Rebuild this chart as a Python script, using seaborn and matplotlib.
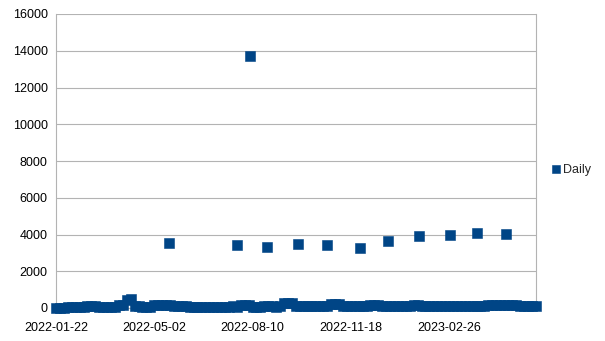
import matplotlib
matplotlib.use("Agg")
import matplotlib.pyplot as plt
import matplotlib.dates as mdates
import seaborn as sns
import pandas as pd

# ---- data ----
base_start = "2022-01-22"
base_step = "4D"
base_values = [
    10, 20, 15, 60, 70, 65, 75, 70, 120, 125, 110, 70, 75, 65, 70, 80,
    160, 155, 450, 480, 110, 100, 70, 75, 70, 150, 145, 160, 150, 140,
    110, 105, 115, 110, 70, 75, 70, 65, 75, 70, 75, 70, 80, 75, 80, 85,
    80, 150, 155, 145, 70, 75, 70, 110, 115, 105, 80, 90, 270, 280, 275,
    95, 90, 85, 95, 90, 100, 95, 90, 100, 220, 230, 215, 90, 95, 85, 90,
    100, 95, 90, 150, 155, 145, 90, 95, 85, 90, 95, 90, 100, 95, 150, 155,
    90, 95, 85, 90, 95, 100, 90, 85, 95, 90, 100, 95, 90, 85, 95, 90, 100,
    150, 145, 155, 150, 140, 160, 150, 145, 90, 95, 100, 90, 95,
]
spike_dates = [
    "2022-05-17", "2022-07-25", "2022-08-07", "2022-08-25", "2022-09-25",
    "2022-10-25", "2022-11-27", "2022-12-26", "2023-01-26", "2023-02-27",
    "2023-03-26", "2023-04-25",
]
spike_values = [3550, 3450, 13700, 3340, 3500, 3450, 3250, 3650, 3940, 3970,
                4080, 4010]
y_ticks = [0, 2000, 4000, 6000, 8000, 10000, 12000, 14000, 16000]
x_tick_dates = ["2022-01-22", "2022-05-02", "2022-08-10", "2022-11-18", "2023-02-26"]
series_name = "Daily"

base_dates = pd.date_range(base_start, periods=len(base_values), freq=base_step)
df = pd.DataFrame({
    "date": list(base_dates) + list(pd.to_datetime(spike_dates)),
    "value": base_values + spike_values,
    "series": series_name,
})

# ---- plot ----
sns.set_theme(style="white")
plt.rcParams["font.family"] = ["Liberation Sans", "DejaVu Sans"]

fig = plt.figure(figsize=(6.05, 3.41), dpi=100)
ax = fig.add_axes([56 / 605, 1 - 308 / 341, (535.5 - 56) / 605, (308 - 14) / 341])

color = "#004586"
sns.scatterplot(data=df, x="date", y="value", hue="series", palette=[color],
                marker="s", s=52, edgecolor=color, linewidth=0.4,
                ax=ax, clip_on=False, zorder=3)

ax.set_xlim(pd.Timestamp("2022-01-22"), base_dates[-1])
ax.set_ylim(0, 16000)
ax.set_yticks(y_ticks)
ax.set_xticks(pd.to_datetime(x_tick_dates))
ax.xaxis.set_major_formatter(mdates.DateFormatter("%Y-%m-%d"))
ax.set_xlabel("")
ax.set_ylabel("")

grid_c = "#b3b3b3"
ax.yaxis.grid(True, color=grid_c, linewidth=0.8)
ax.xaxis.grid(False)
ax.set_axisbelow(True)
for side in ["left", "right", "bottom"]:
    ax.spines[side].set_visible(True)
    ax.spines[side].set_color(grid_c)
    ax.spines[side].set_linewidth(0.8)
ax.spines["top"].set_visible(False)
ax.tick_params(axis="both", which="major", direction="out", length=4,
               width=0.8, color=grid_c, labelsize=9, labelcolor="#000000",
               pad=2)
ax.tick_params(axis="x", pad=6)

leg = ax.legend(loc="center left", bbox_to_anchor=(1.032, 0.469),
                frameon=False, fontsize=9, handletextpad=0.15,
                handlelength=0.8, borderaxespad=0, borderpad=0,
                markerscale=0.85)
fig.savefig("out.png", dpi=100)
